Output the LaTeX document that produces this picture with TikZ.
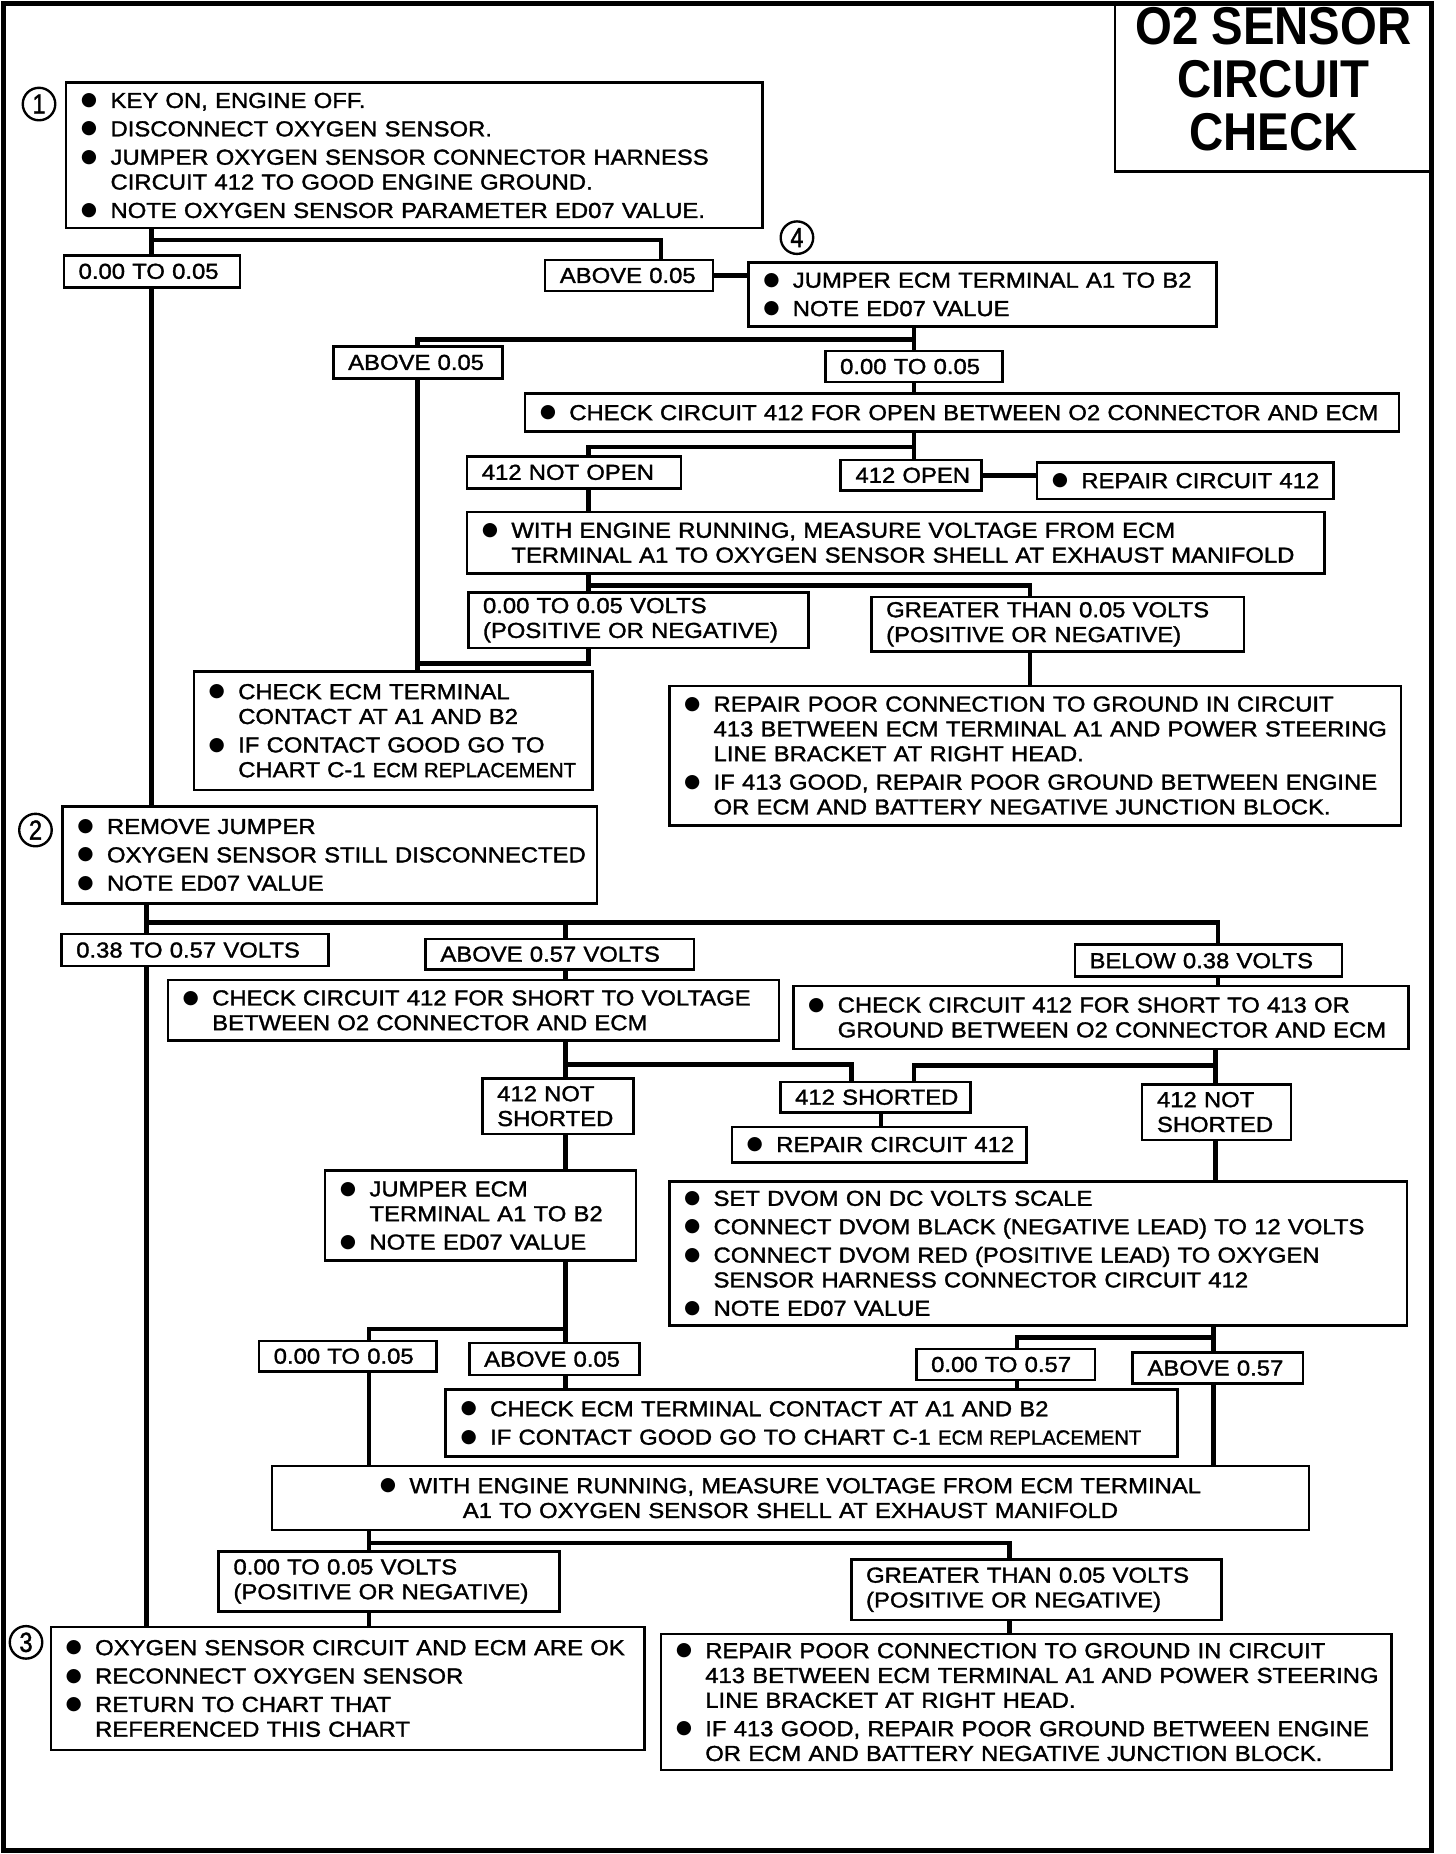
\documentclass[tikz,border=0pt]{standalone}
\usepackage{fontspec}
\usepackage{graphicx}
\setmainfont{Liberation Sans}[FakeStretch=1.10,FakeBold=1.5]
\newfontfamily\titlef{Liberation Sans}[FakeStretch=0.89]
\newfontfamily\digf{Liberation Sans}[FakeStretch=0.85,FakeBold=1.5]
\newfontfamily\symf{DejaVu Sans}
\newcommand\bodyfont{\fontsize{11}{12.6}\selectfont}
\newcommand\myb{\makebox[15pt][l]{\raisebox{1.2pt}{\symf\fontsize{9.5}{9}\selectfont ●}}}
\newcommand\bi[1]{\mbox{\myb #1}}
\newcommand\ci[1]{\mbox{\hspace*{15pt}#1}}
\newcommand\lb[1]{\mbox{#1}}
\newcommand\igap{\\[1.8pt]}
\newcommand\erpl{\scalebox{0.85}[0.95]{ECM REPLACEMENT}}
\newcommand\bx[7][]{%
 \pgfmathsetmacro\bxw{(#5-#3)*0.6}%
 \pgfmathsetmacro\bxh{(#6-#4)*0.6}%
 \pgfmathsetmacro\bxt{(#5-#3)*0.6-15}%
 \node[bbox,minimum width=\bxw pt,minimum height=\bxh pt,text width=\bxt pt,#1] (#2) at ({(#3+#5)/2},{(#4+#6)/2}) {#7};%
}
\tikzset{
 bbox/.style={draw, line width=1.3pt, inner xsep=7.5pt, inner ysep=0pt, align=left, font=\bodyfont, rectangle},
 conn/.style={line width=2.4pt},
 circ/.style={circle, draw, line width=1.2pt, minimum size=16.5pt, inner sep=0pt, font=\digf\fontsize{14}{14}\selectfont},
}
\begin{document}
\begin{tikzpicture}[x=0.6pt,y=-0.6pt]
\fill[white] (0,0) rectangle (1231,1568);
\useasboundingbox (0,0) rectangle (1231,1568);
\draw[line width=2.6pt] (3,3) rectangle (1211,1565);
% title
\bx{tbox}{943}{3}{1211}{145}{}
\node[align=center, font=\titlef\bfseries\fontsize{27}{27}\selectfont, inner sep=0pt] (ttext) at (1077,67) {O2 SENSOR\\CIRCUIT\\CHECK};
% circled numbers
\node[circ] (c1) at (33,88) {1};
\node[circ] (c2) at (30,702) {2};
\node[circ] (c3) at (22,1389) {3};
\node[circ] (c4) at (674,201) {4};
% boxes
\bx{b1}{56}{70}{645}{193}{\bi{KEY ON, ENGINE OFF.}\igap\bi{DISCONNECT OXYGEN SENSOR.}\igap\bi{JUMPER OXYGEN SENSOR CONNECTOR HARNESS}\\\ci{CIRCUIT 412 TO GOOD ENGINE GROUND.}\igap\bi{NOTE OXYGEN SENSOR PARAMETER ED07 VALUE.}}
\bx{l1a}{54}{216}{203}{243}{\lb{0.00 TO 0.05}}
\bx{l1b}{461}{220}{603}{246}{\lb{ABOVE 0.05}}
\bx{b4}{633}{222}{1029}{276}{\bi{JUMPER ECM TERMINAL A1 TO B2}\igap\bi{NOTE ED07 VALUE}}
\bx{l2a}{282}{293}{425}{320}{\lb{ABOVE 0.05}}
\bx{l2b}{698}{297}{848}{323}{\lb{0.00 TO 0.05}}
\bx{chkopen}{444}{333}{1183}{365}{\bi{CHECK CIRCUIT 412 FOR OPEN BETWEEN O2 CONNECTOR AND ECM}}
\bx{notopen}{395}{386}{576}{413}{\lb{412 NOT OPEN}}
\bx{open}{711}{389}{830}{415}{\lb{412 OPEN}}
\bx{rep1}{877}{391}{1128}{422}{\bi{REPAIR CIRCUIT 412}}
\bx{eng1}{395}{433}{1120}{485}{\bi{WITH ENGINE RUNNING, MEASURE VOLTAGE FROM ECM}\\\ci{TERMINAL A1 TO OXYGEN SENSOR SHELL AT EXHAUST MANIFOLD}}
\bx{v005a}{396}{501}{684}{548}{\lb{0.00 TO 0.05 VOLTS}\\\lb{(POSITIVE OR NEGATIVE)}}
\bx{gt1}{737}{505}{1052}{551}{\lb{GREATER THAN 0.05 VOLTS}\\\lb{(POSITIVE OR NEGATIVE)}}
\bx{chkecm1}{164}{568}{501}{668}{\bi{CHECK ECM TERMINAL}\\\ci{CONTACT AT A1 AND B2}\igap\bi{IF CONTACT GOOD GO TO}\\\ci{CHART C-1 \erpl}}
\bx{repair1}{566}{580}{1185}{698}{\bi{REPAIR POOR CONNECTION TO GROUND IN CIRCUIT}\\\ci{413 BETWEEN ECM TERMINAL A1 AND POWER STEERING}\\\ci{LINE BRACKET AT RIGHT HEAD.}\igap\bi{IF 413 GOOD, REPAIR POOR GROUND BETWEEN ENGINE}\\\ci{OR ECM AND BATTERY NEGATIVE JUNCTION BLOCK.}}
\bx{b2}{53}{682}{505}{764}{\bi{REMOVE JUMPER}\igap\bi{OXYGEN SENSOR STILL DISCONNECTED}\igap\bi{NOTE ED07 VALUE}}
\bx{l38}{52}{790}{278}{817}{\lb{0.38 TO 0.57 VOLTS}}
\bx{a57}{360}{794}{587}{820}{\lb{ABOVE 0.57 VOLTS}}
\bx{b38}{909}{799}{1135}{826}{\lb{BELOW 0.38 VOLTS}}
\bx{sv}{142}{829}{659}{880}{\bi{CHECK CIRCUIT 412 FOR SHORT TO VOLTAGE}\\\ci{BETWEEN O2 CONNECTOR AND ECM}}
\bx{s413}{671}{834}{1191}{887}{\bi{CHECK CIRCUIT 412 FOR SHORT TO 413 OR}\\\ci{GROUND BETWEEN O2 CONNECTOR AND ECM}}
\bx{ns1}{408}{912}{536}{959}{\lb{412 NOT}\\\lb{SHORTED}}
\bx{sh}{660}{915}{821}{941}{\lb{412 SHORTED}}
\bx{ns2}{966}{917}{1092}{964}{\lb{412 NOT}\\\lb{SHORTED}}
\bx{rep2}{619}{953}{868}{983}{\bi{REPAIR CIRCUIT 412}}
\bx{jmp}{275}{990}{538}{1066}{\bi{JUMPER ECM}\\\ci{TERMINAL A1 TO B2}\igap\bi{NOTE ED07 VALUE}}
\bx{dvom}{566}{999}{1190}{1121}{\bi{SET DVOM ON DC VOLTS SCALE}\igap\bi{CONNECT DVOM BLACK (NEGATIVE LEAD) TO 12 VOLTS}\igap\bi{CONNECT DVOM RED (POSITIVE LEAD) TO OXYGEN}\\\ci{SENSOR HARNESS CONNECTOR CIRCUIT 412}\igap\bi{NOTE ED07 VALUE}}
\bx{l005c}{219}{1134}{369}{1160}{\lb{0.00 TO 0.05}}
\bx{a005c}{397}{1136}{541}{1163}{\lb{ABOVE 0.05}}
\bx{l057}{775}{1141}{926}{1167}{\lb{0.00 TO 0.57}}
\bx{a057}{958}{1144}{1102}{1170}{\lb{ABOVE 0.57}}
\bx{chkecm2}{377}{1175}{996}{1232}{\bi{CHECK ECM TERMINAL CONTACT AT A1 AND B2}\igap\bi{IF CONTACT GOOD GO TO CHART C-1 \erpl}}
\bx[align=center]{eng2}{230}{1240}{1107}{1294}{\bi{WITH ENGINE RUNNING, MEASURE VOLTAGE FROM ECM TERMINAL}\\\lb{A1 TO OXYGEN SENSOR SHELL AT EXHAUST MANIFOLD}}
\bx{v005b}{185}{1312}{473}{1363}{\lb{0.00 TO 0.05 VOLTS}\\\lb{(POSITIVE OR NEGATIVE)}}
\bx{gt2}{720}{1319}{1033}{1370}{\lb{GREATER THAN 0.05 VOLTS}\\\lb{(POSITIVE OR NEGATIVE)}}
\bx{b3}{43}{1376}{545}{1480}{\bi{OXYGEN SENSOR CIRCUIT AND ECM ARE OK}\igap\bi{RECONNECT OXYGEN SENSOR}\igap\bi{RETURN TO CHART THAT}\\\ci{REFERENCED THIS CHART}}
\bx{repair2}{559}{1382}{1177}{1497}{\bi{REPAIR POOR CONNECTION TO GROUND IN CIRCUIT}\\\ci{413 BETWEEN ECM TERMINAL A1 AND POWER STEERING}\\\ci{LINE BRACKET AT RIGHT HEAD.}\igap\bi{IF 413 GOOD, REPAIR POOR GROUND BETWEEN ENGINE}\\\ci{OR ECM AND BATTERY NEGATIVE JUNCTION BLOCK.}}
% connectors
\coordinate (j1) at (128,203);
\coordinate (j1r) at (559,203);
\draw[conn] (b1.south -| j1) -- (l1a.north -| j1);
\draw[conn] (j1) -- (j1r) -- (l1b.north -| j1r);
\draw[conn] (l1a.south -| j1) -- (b2.north -| j1);
\draw[conn] (l1b.east) -- (b4.west |- l1b.east);
\coordinate (j2) at (773,287);
\coordinate (j2l) at (353,287);
\draw[conn] (b4.south -| j2) -- (l2b.north -| j2);
\draw[conn] (j2) -- (j2l) -- (l2a.north -| j2l);
\draw[conn] (l2b.south -| j2) -- (chkopen.north -| j2);
\coordinate (j3) at (773,378);
\coordinate (j3l) at (498,378);
\draw[conn] (chkopen.south -| j3) -- (open.north -| j3);
\draw[conn] (j3) -- (j3l) -- (notopen.north -| j3l);
\draw[conn] (open.east) -- (rep1.west |- open.east);
\draw[conn] (notopen.south -| j3l) -- (eng1.north -| j3l);
\coordinate (j4) at (498,495);
\coordinate (j4r) at (871,495);
\draw[conn] (eng1.south -| j4) -- (v005a.north -| j4);
\draw[conn] (j4) -- (j4r) -- (gt1.north -| j4r);
\draw[conn] (gt1.south -| j4r) -- (repair1.north -| j4r);
\coordinate (j5) at (498,561);
\coordinate (j5l) at (353,561);
\draw[conn] (v005a.south -| j5) -- (j5) -- (j5l);
\draw[conn] (l2a.south -| j2l) -- (chkecm1.north -| j2l);
\coordinate (j6) at (124,780);
\coordinate (j6m) at (478,780);
\coordinate (j6r) at (1030,780);
\draw[conn] (b2.south -| j6) -- (l38.north -| j6);
\draw[conn] (j6) -- (j6r) -- (b38.north -| j6r);
\draw[conn] (j6m) -- (a57.north -| j6m);
\draw[conn] (l38.south -| j6) -- (b3.north -| j6);
\draw[conn] (a57.south -| j6m) -- (sv.north -| j6m);
\draw[conn] (b38.south -| j6r) -- (s413.north -| j6r);
\coordinate (j7) at (478,900);
\coordinate (j7r) at (720,900);
\draw[conn] (sv.south -| j7) -- (ns1.north -| j7);
\draw[conn] (j7) -- (j7r) -- (sh.north -| j7r);
\coordinate (j8) at (1028,901);
\coordinate (j8l) at (773,901);
\draw[conn] (s413.south -| j8) -- (ns2.north -| j8);
\draw[conn] (j8) -- (j8l) -- (sh.north -| j8l);
\coordinate (k2) at (745,950);
\draw[conn] (sh.south -| k2) -- (rep2.north -| k2);
\draw[conn] (ns1.south -| j7) -- (jmp.north -| j7);
\draw[conn] (ns2.south -| j8) -- (dvom.north -| j8);
\coordinate (j9) at (478,1124);
\coordinate (j9l) at (312,1124);
\draw[conn] (jmp.south -| j9) -- (a005c.north -| j9);
\draw[conn] (j9) -- (j9l) -- (l005c.north -| j9l);
\draw[conn] (a005c.south -| j9) -- (chkecm2.north -| j9);
\coordinate (j10) at (1026,1131);
\coordinate (j10l) at (860,1131);
\draw[conn] (dvom.south -| j10) -- (a057.north -| j10);
\draw[conn] (j10) -- (j10l) -- (l057.north -| j10l);
\draw[conn] (l057.south -| j10l) -- (chkecm2.north -| j10l);
\draw[conn] (a057.south -| j10) -- (eng2.north -| j10);
\draw[conn] (l005c.south -| j9l) -- (eng2.north -| j9l);
\coordinate (j11) at (312,1305);
\coordinate (j11r) at (854,1305);
\draw[conn] (eng2.south -| j11) -- (v005b.north -| j11);
\draw[conn] (j11) -- (j11r) -- (gt2.north -| j11r);
\draw[conn] (v005b.south -| j11) -- (b3.north -| j11);
\draw[conn] (gt2.south -| j11r) -- (repair2.north -| j11r);
\end{tikzpicture}
\end{document}
